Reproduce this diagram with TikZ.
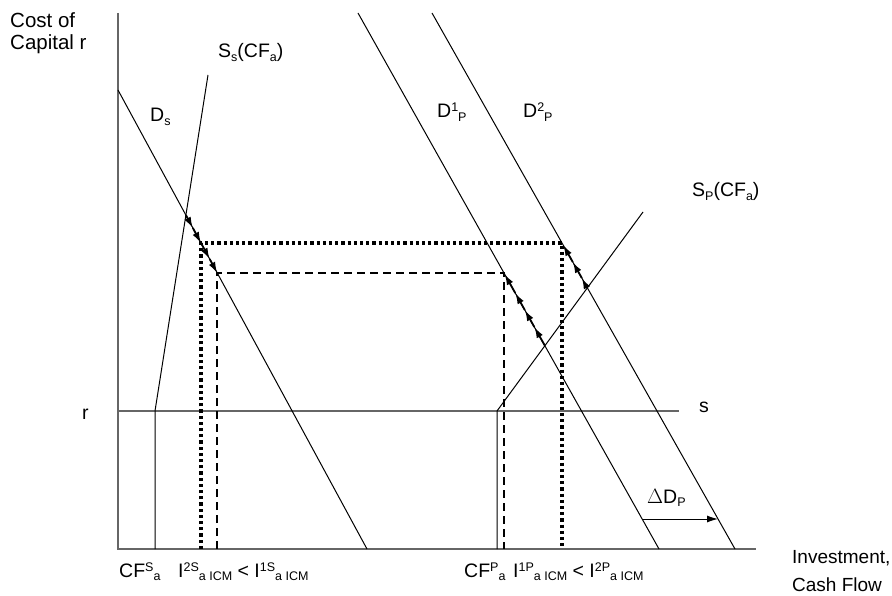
\documentclass[tikz,border=0pt]{standalone}
\usepackage{fontspec}
\setmainfont{Liberation Sans}
\usetikzlibrary{arrows.meta,calc}
\newcommand{\subx}[1]{\raisebox{-3.5pt}{\fontsize{12.5}{12.5}\selectfont #1}}
\newcommand{\supx}[1]{\raisebox{6pt}{\fontsize{12.5}{12.5}\selectfont #1}}
\begin{document}
\begin{tikzpicture}[x=1pt,y=-1pt,
  declare function={xds(\t)=118+(\t-90)*0.542484; xdone(\t)=358+(\t-13)*0.561567; xdtwo(\t)=432+(\t-13)*0.565299;},
  ax/.style={draw=black!60,line width=1.4pt},
  ln/.style={draw=black,line width=1pt},
  dotl/.style={draw=black,line width=3.2pt,dash pattern=on 3.2pt off 3pt},
  dashl/.style={draw=black,line width=2pt,dash pattern=on 8pt off 5pt},
  arr/.style={draw=black,line width=1.8pt,-{Latex[length=11pt,width=7pt]}},
  lbl/.style={inner sep=0pt,anchor=base west,font=\fontsize{19.5}{22}\selectfont}]
\useasboundingbox (0,0) rectangle (892,596);
% axes
\coordinate (O) at (118,549);
\coordinate (Ytop) at (118,13);
\coordinate (Xend) at (756,549);
\coordinate (r0) at (118,411);
\coordinate (r1) at (679,411);
\draw[ax] (Ytop) -- (O) -- (Xend);
\draw[ax] (r0) -- (r1);
% curves
\coordinate (ds1) at (118,90);
\coordinate (ds2) at (367,549);
\coordinate (ss1) at (208,75);
\coordinate (ss2) at (155,411);
\coordinate (ss3) at (155,549);
\coordinate (d1a) at (358,13);
\coordinate (d1b) at (659,549);
\coordinate (d2a) at (432,13);
\coordinate (d2b) at (735,549);
\coordinate (sp1) at (643,212);
\coordinate (sp2) at (497,411);
\coordinate (sp3) at (497,549);
\draw[ln] (ds1) -- (ds2);
\draw[ln] (ss1) -- (ss2) -- (ss3);
\draw[ln] (d1a) -- (d1b);
\draw[ln] (d2a) -- (d2b);
\draw[ln] (sp1) -- (sp2) -- (sp3);
% dotted and dashed
\coordinate (dt1) at ({xds(243)},243);
\coordinate (dt2) at ({xdtwo(243)},243);
\coordinate (dt1b) at ({xds(243)},549);
\coordinate (dt2b) at ({xdtwo(243)},549);
\coordinate (da1) at ({xds(273)},273);
\coordinate (da2) at ({xdone(273)},273);
\coordinate (da1b) at ({xds(273)},549);
\coordinate (da2b) at ({xdone(273)},549);
\draw[dotl] (dt1b) -- (dt1) -- (dt2) -- (dt2b);
\draw[dashl] (da1b) -- (da1) -- (da2) -- (da2b);
% arrows along Ds
\coordinate (a0) at (185.9,215.1);
\coordinate (a1) at ({xds(228)},228);
\coordinate (a2) at ({xds(243)},243);
\coordinate (a3) at ({xds(259)},259);
\coordinate (a4) at ({xds(273)},273);
\draw[arr] (a0) -- (a1);
\draw[arr] (a1) -- (a2);
\draw[arr] (a2) -- (a3);
\draw[arr] (a3) -- (a4);
% arrows along D1P
\coordinate (b0) at (544.9,345.7);
\coordinate (b1) at ({xdone(327)},327);
\coordinate (b2) at ({xdone(310)},310);
\coordinate (b3) at ({xdone(293)},293);
\coordinate (b4) at ({xdone(274)},274);
\draw[arr] (b0) -- (b1);
\draw[arr] (b1) -- (b2);
\draw[arr] (b2) -- (b3);
\draw[arr] (b3) -- (b4);
% arrows along D2P
\coordinate (c0) at (587,288);
\coordinate (c1) at ({xdtwo(278)},278);
\coordinate (c2) at ({xdtwo(262)},262);
\coordinate (c3) at ({xdtwo(245)},245);
\draw[arr] (c0) -- (c1);
\draw[arr] (c1) -- (c2);
\draw[arr] (c2) -- (c3);
% delta D
\coordinate (e1) at ({xdone(519)},519);
\coordinate (e2) at ({xdtwo(519)},519);
\draw[ln,-{Latex[length=11pt,width=7pt]}] (e1) -- (e2);
% labels
\node[lbl,align=left,font=\fontsize{20.5}{22}\selectfont] (cost) at (10,50) {Cost of\\Capital r};
\node[lbl] (lss) at (218,58) {S\subx{s}(CF\subx{a})};
\node[lbl] (lds) at (150,122) {D\subx{s}};
\node[lbl] (ld1) at (437,118) {D\supx{1}\subx{P}};
\node[lbl] (ld2) at (523,118) {D\supx{2}\subx{P}};
\node[lbl] (lsp) at (692,197) {S\subx{P}(CF\subx{a})};
\node[lbl] (lr) at (82,419) {r};
\node[lbl] (ls) at (699,412) {s};
\node[lbl] (ldd) at (647,503) {$\Delta$D\subx{P}};
\node[lbl] (lcfs) at (119,577) {CF\supx{S}\subx{a}};
\node[lbl] (lis) at (178,577) {I\supx{2S}\subx{a ICM} < I\supx{1S}\subx{a ICM}};
\node[lbl] (lcfp) at (464,577) {CF\supx{P}\subx{a}};
\node[lbl] (lip) at (513,577) {I\supx{1P}\subx{a ICM} < I\supx{2P}\subx{a ICM}};
\node[lbl,align=left,font=\fontsize{19}{28}\selectfont] (linv) at (792,591) {Investment,\\Cash Flow};
\end{tikzpicture}
\end{document}
